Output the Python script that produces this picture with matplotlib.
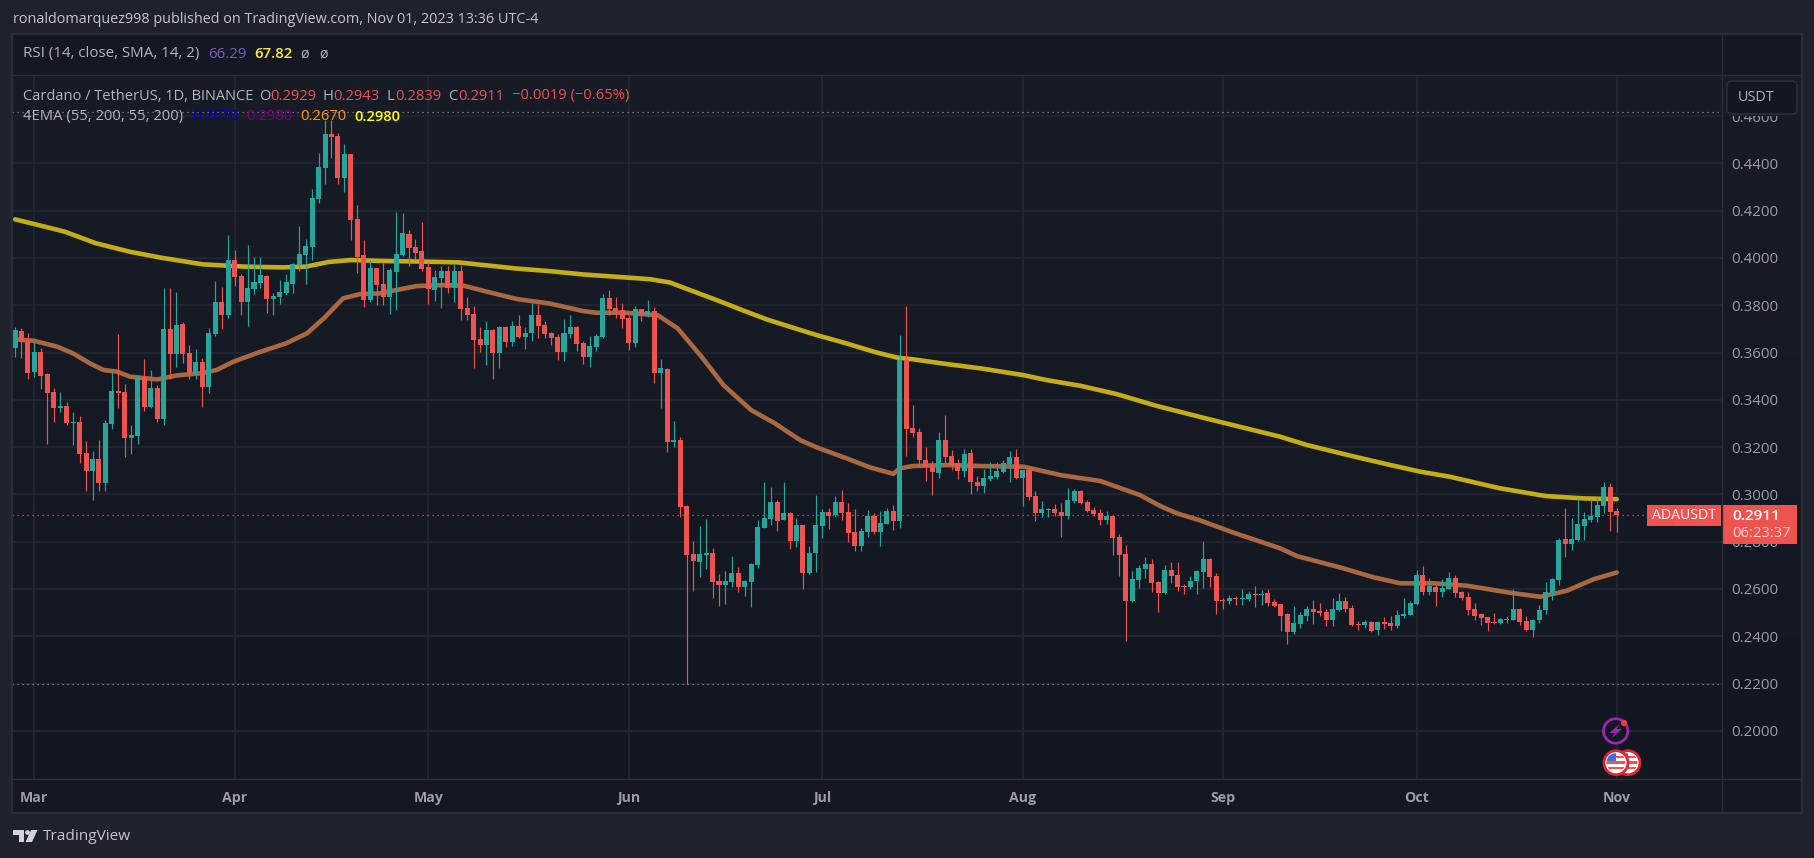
import numpy as np
import matplotlib
matplotlib.use("Agg")
import matplotlib.pyplot as plt
from matplotlib.patches import Rectangle, FancyBboxPatch, Circle, Polygon

plt.rcParams['font.family'] = ['Open Sans', 'DejaVu Sans']

# Days counted from 1 Mar 2023; the candles run 26 Feb .. 1 Nov 2023
days = list(range(-3, 246))

opens = [
 .3619,.3691,.3649,.3517,.3602,.3509,.3433,.3365,.3374,.3302,
 .3306,.3175,.3099,.3149,.3048,.3297,.3437,.3433,.3238,.3247,
 .3496,.3369,.3450,.3318,.3699,.3593,.3720,.3597,.3509,.3559,
 .3454,.3678,.3813,.3758,.3991,.3923,.3813,.3868,.3893,.3923,
 .3826,.3834,.3851,.3889,.3970,.4012,.4046,.4249,.4382,.4524,
 .4516,.4339,.4440,.4165,.4012,.3822,.3957,.3890,.3835,.3940,
 .4012,.4101,.4046,.4029,.3962,.3864,.3915,.3945,.3873,.3945,
 .3788,.3763,.3657,.3632,.3695,.3598,.3708,.3644,.3712,.3665,
 .3682,.3759,.3716,.3682,.3665,.3602,.3678,.3707,.3640,.3580,
 .3623,.3665,.3830,.3788,.3779,.3745,.3640,.3783,.3758,.3775,
 .3513,.3530,.3221,.3229,.2950,.2747,.2713,.2743,.2751,.2633,
 .2616,.2629,.2667,.2607,.2629,.2701,.2857,.2895,.2967,.2891,
 .2920,.2802,.2870,.2667,.2751,.2866,.2925,.2912,.2967,.2925,
 .2840,.2781,.2840,.2908,.2840,.2874,.2929,.2887,.3568,.3280,
 .3263,.3145,.3120,.3090,.3230,.3162,.3132,.3098,.3174,.3052,
 .3035,.3064,.3073,.3094,.3128,.3158,.3069,.3103,.2993,.2921,
 .2933,.2938,.2925,.2908,.2971,.3014,.2967,.2933,.2921,.2891,
 .2908,.2819,.2748,.2549,.2638,.2684,.2705,.2629,.2583,.2680,
 .2659,.2612,.2608,.2633,.2672,.2727,.2655,.2553,.2549,.2561,
 .2557,.2557,.2578,.2574,.2583,.2545,.2536,.2494,.2418,.2452,
 .2485,.2515,.2507,.2502,.2468,.2511,.2549,.2519,.2452,.2447,
 .2460,.2426,.2460,.2456,.2443,.2485,.2490,.2536,.2659,.2587,
 .2608,.2587,.2600,.2646,.2587,.2566,.2515,.2494,.2481,.2460,
 .2456,.2469,.2469,.2515,.2464,.2426,.2469,.2511,.2583,.2638,
 .2811,.2790,.2807,.2866,.2891,.2904,.2951,.3031,.2929]

highs = [
 .3706,.3704,.3682,.3644,.3619,.3513,.3450,.3433,.3391,.3348,
 .3331,.3226,.3183,.3230,.3314,.3517,.3678,.3467,.3293,.3505,
 .3572,.3526,.3462,.3872,.3872,.3855,.3729,.3631,.3614,.3576,
 .3702,.3902,.3877,.4097,.4033,.3932,.4054,.4003,.4003,.3927,
 .3851,.3906,.3932,.3978,.4135,.4080,.4291,.4443,.4583,.4583,
 .4527,.4482,.4440,.4224,.4076,.3991,.3957,.3977,.3957,.4194,
 .4190,.4118,.4080,.4152,.3983,.3949,.3966,.3966,.3974,.3970,
 .3835,.3797,.3708,.3733,.3699,.3712,.3712,.3733,.3759,.3708,
 .3809,.3805,.3733,.3686,.3678,.3741,.3758,.3711,.3648,.3669,
 .3678,.3847,.3864,.3834,.3809,.3754,.3796,.3783,.3821,.3792,
 .3572,.3534,.3310,.3242,.2954,.2802,.2866,.2895,.2772,.2662,
 .2675,.2739,.2692,.2637,.2709,.2891,.3052,.3030,.2975,.3052,
 .2925,.2899,.2870,.2781,.2997,.2937,.2942,.2992,.3018,.2963,
 .2937,.2857,.2933,.2920,.2929,.2942,.2954,.3674,.3796,.3378,
 .3280,.3200,.3141,.3263,.3335,.3187,.3149,.3191,.3191,.3077,
 .3107,.3136,.3136,.3145,.3183,.3191,.3103,.3120,.3014,.2971,
 .2942,.2959,.2963,.3026,.3022,.3018,.2976,.2946,.2938,.2929,
 .2908,.2832,.2786,.2676,.2701,.2735,.2726,.2633,.2701,.2714,
 .2714,.2621,.2655,.2680,.2803,.2731,.2667,.2561,.2574,.2570,
 .2600,.2591,.2612,.2595,.2600,.2557,.2536,.2498,.2528,.2502,
 .2528,.2553,.2540,.2515,.2561,.2583,.2566,.2532,.2464,.2469,
 .2464,.2464,.2481,.2485,.2511,.2561,.2549,.2680,.2697,.2646,
 .2617,.2642,.2672,.2659,.2591,.2587,.2540,.2498,.2481,.2498,
 .2477,.2485,.2600,.2519,.2485,.2473,.2532,.2629,.2646,.2815,
 .2942,.2900,.2980,.2925,.2976,.2989,.3052,.3048,.2943]

lows = [
 .3582,.3577,.3488,.3496,.3446,.3213,.3306,.3348,.3293,.3209,
 .3133,.3014,.2976,.3014,.3014,.3276,.3365,.3158,.3171,.3213,
 .3352,.3365,.3306,.3293,.3490,.3538,.3555,.3487,.3487,.3369,
 .3428,.3669,.3699,.3745,.3881,.3758,.3712,.3847,.3872,.3767,
 .3758,.3805,.3843,.3851,.3944,.3889,.3991,.4232,.4313,.4424,
 .4314,.4280,.4076,.3936,.3792,.3814,.3801,.3801,.3763,.3780,
 .4008,.3966,.3995,.3945,.3805,.3818,.3788,.3852,.3814,.3737,
 .3737,.3534,.3602,.3547,.3488,.3534,.3623,.3627,.3661,.3615,
 .3649,.3661,.3661,.3631,.3568,.3563,.3661,.3606,.3551,.3538,
 .3606,.3661,.3758,.3745,.3703,.3610,.3623,.3733,.3750,.3470,
 .3365,.3179,.3200,.2904,.2200,.2591,.2650,.2684,.2561,.2527,
 .2536,.2608,.2586,.2569,.2523,.2688,.2857,.2870,.2844,.2891,
 .2768,.2777,.2599,.2662,.2671,.2815,.2853,.2904,.2891,.2798,
 .2760,.2760,.2819,.2832,.2781,.2874,.2849,.2857,.3162,.3242,
 .3120,.3056,.2997,.3069,.3128,.3103,.3065,.3073,.3001,.3014,
 .3005,.3056,.3064,.3090,.3052,.3064,.2950,.2976,.2887,.2904,
 .2904,.2908,.2819,.2895,.2963,.2960,.2925,.2908,.2870,.2874,
 .2743,.2654,.2380,.2545,.2604,.2646,.2587,.2502,.2580,.2625,
 .2591,.2578,.2600,.2578,.2604,.2608,.2494,.2515,.2536,.2532,
 .2532,.2549,.2523,.2532,.2528,.2525,.2422,.2367,.2409,.2435,
 .2464,.2452,.2485,.2443,.2443,.2507,.2502,.2445,.2426,.2435,
 .2418,.2405,.2430,.2426,.2435,.2477,.2488,.2534,.2574,.2574,
 .2528,.2566,.2598,.2566,.2553,.2490,.2468,.2447,.2422,.2452,
 .2452,.2456,.2467,.2447,.2422,.2397,.2456,.2494,.2553,.2617,
 .2735,.2765,.2803,.2807,.2883,.2883,.2921,.2845,.2839]

closes = [
 .3695,.3644,.3513,.3602,.3501,.3429,.3365,.3374,.3302,.3306,
 .3171,.3099,.3149,.3048,.3302,.3437,.3429,.3238,.3251,.3496,
 .3369,.3450,.3319,.3699,.3593,.3716,.3593,.3513,.3559,.3454,
 .3682,.3813,.3758,.3991,.3919,.3813,.3872,.3898,.3927,.3826,
 .3839,.3855,.3898,.3974,.4016,.4050,.4253,.4384,.4524,.4511,
 .4339,.4440,.4160,.4004,.3822,.3957,.3885,.3835,.3949,.4017,
 .4105,.4042,.4021,.3953,.3869,.3919,.3945,.3873,.3945,.3784,
 .3759,.3653,.3632,.3695,.3598,.3708,.3644,.3712,.3665,.3682,
 .3759,.3712,.3678,.3661,.3602,.3682,.3707,.3635,.3580,.3627,
 .3669,.3830,.3783,.3775,.3741,.3640,.3783,.3758,.3775,.3513,
 .3534,.3221,.3229,.2946,.2743,.2717,.2747,.2751,.2629,.2616,
 .2633,.2667,.2607,.2633,.2705,.2861,.2899,.2967,.2887,.2920,
 .2802,.2870,.2667,.2751,.2870,.2925,.2908,.2967,.2920,.2836,
 .2781,.2844,.2908,.2840,.2878,.2929,.2887,.3568,.3276,.3259,
 .3145,.3115,.3094,.3230,.3158,.3124,.3098,.3170,.3052,.3035,
 .3069,.3077,.3098,.3132,.3158,.3069,.3103,.2988,.2921,.2938,
 .2938,.2921,.2908,.2976,.3014,.2963,.2929,.2916,.2891,.2908,
 .2815,.2743,.2549,.2642,.2688,.2705,.2625,.2583,.2680,.2655,
 .2608,.2608,.2633,.2676,.2727,.2650,.2549,.2549,.2561,.2557,
 .2561,.2578,.2574,.2578,.2540,.2528,.2485,.2418,.2456,.2490,
 .2515,.2502,.2498,.2468,.2515,.2549,.2515,.2447,.2447,.2460,
 .2422,.2460,.2452,.2443,.2490,.2494,.2540,.2659,.2587,.2612,
 .2587,.2604,.2646,.2583,.2561,.2511,.2485,.2477,.2456,.2456,
 .2473,.2473,.2515,.2460,.2426,.2469,.2511,.2587,.2642,.2807,
 .2790,.2811,.2875,.2896,.2908,.2955,.3031,.2925,.2911]

ema200_days = [-3,.6,4.7,9.5,14.8,19.6,26,32.6,38.5,42,45.6,49,54,61,65.7,69.5,74.7,79.8,85,90.2,95.3,98.4,
               101.5,105.7,110,113.4,118.6,121.2,125.8,130,133.5,136.1,141.3,146.5,153.2,156.8,162,167.6,
               173.8,181,184.1,192.9,197,204.8,210,214.6,219.1,226.9,234,240,245]
ema200 = [.4163,.4139,.4111,.4062,.4026,.4001,.3973,.3963,.3960,.3963,.3983,.3991,.3987,.3984,.3981,.3970,.3955,.3944,.3930,.3920,.3910,.3896,
          .3864,.3821,.3775,.3740,.3695,.3673,.3638,.3603,.3579,.3571,.3551,.3533,.3504,.3483,.3459,.3424,
          .3374,.3324,.3303,.3244,.3209,.3157,.3124,.3096,.3075,.3026,.2993,.2983,.2980]

ema55_days = [-3.25,-.15,3.5,6,8.6,10.7,12.8,14.8,19,22,25.7,28.2,30.8,35,39,42.2,44.8,47.8,50.4,53.5,56,59.2,63.3,66.4,69.5,
              74.7,79.8,85,87,91.3,96.5,99.6,103.3,106.7,111,114.5,118.6,121.2,125.8,129.4,133,134,136,141.3,146.5,153.2,
              159,165,168,171.2,174.3,176.9,180.5,185.7,192.9,195.5,202.2,207.4,211.5,216.7,221.8,228.5,233.2,237.3,241.4,245]
ema55 = [.3656,.3650,.3625,.3596,.3554,.3526,.3519,.3498,.3486,.3503,.3512,.3526,.3561,.3603,.3639,.3681,.3744,.3829,.3847,.3850,.3864,.3881,.3885,.3883,.3861,
         .3826,.3807,.3775,.3768,.3768,.3758,.3702,.3582,.3462,.3356,.3303,.3229,.3198,.3152,.3114,.3087,.3110,.3120,.3124,.3120,.3117,
         .3081,.3057,.3028,.2997,.2951,.2920,.2890,.2838,.2772,.2739,.2691,.2649,.2624,.2624,.2614,.2584,.2567,.2593,.2641,.2670]

month_days = [0, 31, 61, 92, 122, 153, 184, 214, 245]
month_labels = ['Mar', 'Apr', 'May', 'Jun', 'Jul', 'Aug', 'Sep', 'Oct', 'Nov']
price_ticks = [0.20, 0.22, 0.24, 0.26, 0.28, 0.30, 0.32, 0.34, 0.36, 0.38, 0.40, 0.42, 0.44, 0.46]
visible_high = 0.4618
visible_low = 0.2200
last_price = 0.2911

W, H = 1815, 858
OUTER, FRAME = '#1e222d', '#2a2e39'
UP, DOWN = '#26a69a', '#ef5350'
TXT, AXT = '#b2b5be', '#9a9da6'
GRID = '#222631'
L, R, T, B = 12.5, 1722, 75, 779
fig = plt.figure(figsize=(W / 100, H / 100), dpi=100, facecolor=OUTER)


def rect_of(l, r, t, b):
    return [l / W, 1 - b / H, (r - l) / W, (b - t) / H]


# background layer in pixels
bg = fig.add_axes([0, 0, 1, 1], zorder=0)
bg.set_xlim(0, W); bg.set_ylim(H, 0); bg.axis('off')
bg.add_patch(Rectangle((12, 34), 1790, 779, fc='#141823', ec='none'))
grad = np.linspace(0, 1, 256).reshape(-1, 1, 1)
c0 = np.array([0x18, 0x1c, 0x27]) / 255
c1 = np.array([0x13, 0x17, 0x22]) / 255
bg.imshow(c0 + (c1 - c0) * grad, extent=[L, R, B, T], aspect='auto', zorder=1)
bg.imshow(c0 + (c1 - c0) * grad, extent=[R, 1802, B, T], aspect='auto', zorder=1)
bg.set_xlim(0, W); bg.set_ylim(H, 0)

# price pane
ax = fig.add_axes(rect_of(L, R, T, B), zorder=1)
ax.patch.set_alpha(0)
ax.set_xlim(-3.39, 261.3)
ax.set_ylim(0.17966, 0.47734)
for s in ax.spines.values():
    s.set_visible(False)
ax.set_axisbelow(True)
ax.grid(True, color=GRID, lw=1.3)
ax.yaxis.tick_right()
ax.set_yticks(price_ticks, [f'{v:.4f}' for v in price_ticks])
ax.set_xticks(month_days, month_labels)
ax.tick_params(axis='y', length=0, pad=6.5, labelsize=10.8, labelcolor=AXT)
ax.tick_params(axis='x', length=0, pad=8.5, labelsize=10.2, labelcolor=AXT)
for lab in ax.get_xticklabels():
    lab.set_fontweight('bold')
ax.axhline(visible_high, color='#8a8d96', lw=0.9, ls=(0, (1, 3)), zorder=1.5)
ax.axhline(visible_low, color='#8a8d96', lw=0.9, ls=(0, (1, 3)), zorder=1.5)
ax.axhline(last_price, color=DOWN, lw=0.9, ls=(0, (1, 3)), zorder=1.5)

ax.plot(ema200_days, ema200, color='#c5ad15', lw=3.3, solid_joinstyle='round', solid_capstyle='round', zorder=2)
ax.plot(ema55_days, ema55, color='#a9683f', lw=3.3, solid_joinstyle='round', solid_capstyle='round', zorder=2)

x = np.array(days)
o, h, l, c = map(np.array, (opens, highs, lows, closes))
cols = np.where(c >= o, UP, DOWN)
ax.vlines(x, l, h, colors=cols, lw=0.85, zorder=3)
ax.bar(x, np.maximum(np.abs(c - o), 0.0005), bottom=np.minimum(o, c), width=0.78, color=cols, lw=0, zorder=4)

# foreground layer in pixels
fg = fig.add_axes([0, 0, 1, 1], zorder=2)
fg.set_xlim(0, W); fg.set_ylim(H, 0); fg.axis('off'); fg.patch.set_alpha(0)
# frame
fg.add_patch(Rectangle((1723, 76), 78, 39.7, fc='#181c27', ec='none'))
fg.add_patch(Rectangle((12, 34), 1790, 779, fc='none', ec=FRAME, lw=1.6))
fg.plot([12, 1802], [75.3, 75.3], color=FRAME, lw=1)
fg.plot([12, 1802], [779, 779], color=FRAME, lw=1)
fg.plot([1722.3, 1722.3], [34, 813], color=FRAME, lw=1)
# USDT button
fg.add_patch(FancyBboxPatch((1729, 83), 66, 29, boxstyle='round,pad=2,rounding_size=5', fc='#131722', ec=FRAME, lw=1.2))
fg.text(1738, 97.5, 'USDT', color=TXT, fontsize=10.4, va='center')
# last price tags
fg.add_patch(Rectangle((1647, 505), 74, 21, fc=DOWN, ec='none'))
fg.add_patch(Rectangle((1722, 505), 75, 39, fc=DOWN, ec='none'))
fg.text(1684, 515.5, 'ADAUSDT', color='white', fontsize=10.2, ha='center', va='center')
fg.text(1732, 515.5, '0.2911', color='white', fontsize=11, va='center', fontweight='semibold')
fg.text(1732, 533.5, '06:23:37', color='#f9d0cf', fontsize=10.6, va='center')


def t(xp, yp, s, color=TXT, size=10.4, **kw):
    return fg.text(xp, yp, s, color=color, fontsize=size, va='center', **kw)


t(13, 19.5, 'ronaldomarquez998 published on TradingView.com, Nov 01, 2023 13:36 UTC-4', size=10.35, color='#c3c5cc')
t(23, 54, 'RSI (14, close, SMA, 14, 2)', size=10.9)
t(208, 54, '66.29', color='#7e57c2', size=10.8)
t(254, 54, '67.82', color='#ffeb3b', size=10.8, fontweight='semibold')
t(300, 54, 'ø'); t(319, 54, 'ø')
t(23, 96, 'Cardano / TetherUS, 1D, BINANCE', size=10.5)
for xl, xv, lab, val in [(259, 270, 'O', '0.2929'), (323, 333, 'H', '0.2943'), (387, 395, 'L', '0.2839'), (448, 458, 'C', '0.2911')]:
    t(xl, 96, lab, size=10.6)
    t(xv, 96, val, color=DOWN, size=10.6)
t(512, 96, '−0.0019 (−0.65%)', color=DOWN, size=10.6)
t(23, 116.7, '4EMA (55, 200, 55, 200)', size=10.6)
t(192, 116.7, '0.2670', color='#0000c8', size=10.6)
t(246, 116.7, '0.2980', color='#800080', size=10.6)
t(300, 116.7, '0.2670', color='#ff9800', size=10.6)
t(354, 116.7, '0.2980', color='#ffff00', size=10.6, fontweight='semibold')

# event icons
fg.add_patch(Circle((1615.7, 731), 12.2, fc='#131722', ec='#9c27b0', lw=2, zorder=5))
fg.add_patch(Polygon([(1620, 723.5), (1609.5, 733), (1615, 733), (1611.5, 738.5), (1622, 729), (1616.5, 729)],
                     closed=True, fc='#9c27b0', ec='none', zorder=6))
fg.add_patch(Circle((1624, 723), 3.2, fc='#f23645', ec='none', zorder=6))
for cx, z in [(1628, 5), (1616, 7)]:
    rim = Circle((cx, 762.7), 12, fc='white', ec='#e02438', lw=2, zorder=z)
    fg.add_patch(rim)
    clip = Circle((cx, 762.7), 9.5, transform=fg.transData)
    for yy in (755.5, 761, 766.5):
        s = fg.add_patch(Rectangle((cx - 11, yy), 22, 2.8, fc='#ef5350', ec='none', zorder=z + .1))
        s.set_clip_path(clip)
    can = fg.add_patch(Rectangle((cx - 11, 751), 11, 10, fc='#3d6fd8', ec='none', zorder=z + .2))
    can.set_clip_path(clip)

# TradingView mark and name
fg.add_patch(Polygon([(13, 830), (24, 830), (24, 842), (19, 842), (19, 835), (13, 835)], closed=True, fc='#d1d4dc', ec='none'))
fg.add_patch(Circle((27.5, 832.5), 2.4, fc='#d1d4dc', ec='none'))
fg.add_patch(Polygon([(31, 830), (37.5, 830), (32, 842), (25.5, 842)], closed=True, fc='#d1d4dc', ec='none'))
t(42.5, 836.5, 'TradingView', size=11.1, color='#c3c5cc')

fig.savefig('out.png', dpi=100, facecolor=OUTER)
